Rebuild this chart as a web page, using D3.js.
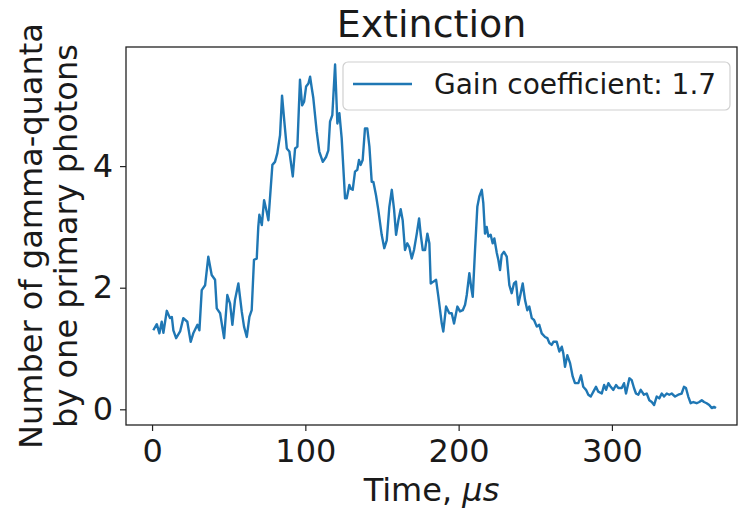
<!DOCTYPE html>
<html>
  <head>
  <title>Extinction</title>
  </head>
  <body>
    <style>
        body, html {
          margin: 0;
          padding: 0;
          background: white;
        }
        text {
          font-family: "DejaVu Sans", sans-serif;
          fill: #1a1a1a;
        }
      </style>

  <svg id="svg" width="742" height="520"></svg>

  <script src="https://d3js.org/d3.v7.min.js"></script>
  <script>
    // time in microseconds
    const times = [
      0.8, 3.1, 4.8, 6.3, 7.4, 9.6, 11.7, 12.9, 13.9, 15.7, 18.3, 20.4, 23.0, 25.2, 26.9, 29.6, 30.9,
      32.4, 34.6, 36.7, 38.9, 41.1, 42.2, 44.4, 47.0, 49.1, 50.9, 52.4, 54.1, 56.3, 58.5, 60.0, 61.8,
      63.5, 65.0, 66.5, 68.3, 69.3,
      70.0, 71.6, 73.1, 74.8, 75.9, 78.5, 80.2, 81.7, 83.5, 84.8, 86.3, 87.9, 89.6, 91.8, 93.3, 94.8,
      96.5, 97.9, 99.2, 100.5, 102.0, 103.1, 104.2, 105.2, 107.4, 109.1, 111.4, 113.5, 115.0, 116.1,
      117.6, 119.4, 120.9, 122.2, 123.7, 125.9, 127.0, 128.7,
      129.6, 130.9, 132.4, 133.9, 135.0, 136.1, 137.4, 138.9, 140.4, 141.8, 143.3, 144.4, 146.1, 147.6,
      149.8, 151.5, 153.1, 154.8, 156.4, 157.9, 159.2, 160.7, 162.2, 163.5, 165.0, 166.5, 167.8, 169.4,
      170.9, 172.7, 174.2, 175.3, 176.6, 178.1, 179.6, 180.9, 181.8, 183.5, 185.3, 186.8, 189.0, 190.0,
      191.8,
      193.9, 195.5, 197.0, 199.2, 200.9, 202.7, 204.2, 205.3, 207.0, 208.1, 209.2, 210.7, 212.2, 213.5,
      215.1, 216.1, 217.2, 218.3, 219.4, 220.9, 222.2, 223.3, 224.9, 225.9, 227.0, 228.1, 229.6, 231.4,
      233.1, 234.6, 236.1, 237.4, 238.9, 240.5, 241.8, 243.3, 244.8, 246.1, 247.7, 249.2, 251.0, 252.6,
      254.2, 256.4, 257.9,
      259.2, 260.7, 261.8, 264.0, 265.7, 267.3, 268.3, 269.4, 270.9, 272.7, 274.4, 275.9, 278.1, 279.8,
      281.3, 283.1, 284.6, 286.2, 287.9, 289.6, 291.1, 293.4, 294.9, 296.2, 297.7, 299.2, 300.9, 302.7,
      304.2, 306.4, 307.9, 309.2, 311.4, 312.9, 314.4, 315.7, 317.2, 318.8, 320.9, 322.7, 324.4, 326.0,
      327.5, 329.2, 330.9, 332.5, 334.0, 335.8, 337.4, 339.0, 341.2, 343.3, 345.5, 347.0, 348.3, 349.8,
      351.4, 353.1, 355.3, 357.0, 358.6, 360.1, 361.8, 363.5, 365.1, 366.6, 367.9
    ]
    // number of gamma-quanta by one primary photon
    const counts = [
      1.30, 1.40, 1.25, 1.44, 1.26, 1.62, 1.50, 1.52, 1.30, 1.17, 1.28, 1.50, 1.44, 1.11, 1.25, 1.39, 1.30,
      1.96, 2.04, 2.51, 2.21, 2.13, 1.66, 1.58, 1.17, 1.88, 1.74, 1.39, 1.80, 2.07, 1.61, 1.36, 1.19,
      1.52, 1.63, 2.46, 2.48, 3.00,
      3.20, 3.03, 3.44, 3.25, 3.11, 4.02, 4.07, 4.21, 4.51, 5.16, 4.73, 4.29, 4.24, 3.83, 4.29, 4.32,
      5.42, 5.00, 5.06, 5.31, 5.36, 5.47, 5.28, 5.12, 4.57, 4.24, 4.07, 4.15, 4.26, 4.73,
      4.84, 5.67, 4.70, 4.87, 4.46, 3.47, 3.47, 3.69,
      3.63, 3.61, 3.91, 3.94, 4.10, 4.02, 4.10, 4.62, 4.62, 4.32, 3.74, 3.74, 3.52, 3.28,
      2.87, 2.65, 2.78, 3.33, 3.61, 3.28, 2.87, 3.11, 3.29, 3.11, 2.62, 2.73, 2.67, 2.48,
      2.62, 2.89, 3.14, 2.87, 2.62, 2.62, 2.89, 2.73, 2.07, 2.10, 2.13, 1.85, 1.41, 1.28,
      1.69,
      1.58, 1.58, 1.41, 1.69, 1.61, 1.63, 1.72, 1.88, 2.24, 2.02, 1.85, 2.62, 3.33, 3.50,
      3.61, 3.39, 2.89, 3.00, 2.84, 2.87, 2.73, 2.81, 2.57, 2.46, 2.29, 2.54, 2.59, 2.51,
      2.04, 1.91, 2.07, 2.10, 1.72, 1.91, 2.07, 1.80, 1.63, 1.69, 1.50, 1.47, 1.36, 1.39,
      1.25, 1.19, 1.17,
      1.09, 1.06, 1.11, 1.11, 0.95, 1.03, 0.92, 0.70, 0.89, 0.76, 0.54, 0.43, 0.43, 0.56,
      0.37, 0.32, 0.24, 0.21, 0.29, 0.37, 0.29, 0.26, 0.40, 0.32, 0.43, 0.37, 0.32, 0.40,
      0.35, 0.35, 0.43, 0.26, 0.51, 0.48, 0.35, 0.26, 0.24, 0.32, 0.24, 0.26, 0.15, 0.12,
      0.07, 0.21, 0.18, 0.26, 0.21, 0.26, 0.24, 0.26, 0.21, 0.24, 0.26, 0.37, 0.35, 0.21,
      0.10, 0.12, 0.10, 0.12, 0.15, 0.12, 0.10, 0.07, 0.02, 0.04, 0.02
    ]
    const xTicks = [0, 100, 200, 300]
    const yTicks = [0, 2, 4]
    const seriesLabel = 'Gain coefficient: 1.7'

    const data = times.map((t, i) => ({ t: t, v: counts[i] }))

    const margin = { left: 126, top: 47, right: 5, bottom: 95 }
    const width = 742 - margin.left - margin.right
    const height = 520 - margin.top - margin.bottom

    const xscale = d3.scaleLinear()
        .domain([-17, 381.6])
        .range([0, width])
    const yscale = d3.scaleLinear()
        .domain([-0.258, 5.959])
        .range([height, 0])

    const svg = d3.select('#svg')
    const graph = svg.append('g')
        .attr('transform', `translate(${margin.left}, ${margin.top})`)

    // line
    const linegen = d3.line()
        .x(d => xscale(d.t))
        .y(d => yscale(d.v))
    graph.append('path')
        .attr('d', linegen(data))
        .attr('fill', 'none')
        .attr('stroke', '#1f77b4')
        .attr('stroke-width', 2.4)
        .attr('stroke-linejoin', 'round')

    // axes (integer labels)
    const bottomAxis = d3.axisBottom(xscale).tickValues(xTicks).tickFormat(d3.format('d'))
        .tickSize(6).tickPadding(8).tickSizeOuter(0)
    const leftAxis = d3.axisLeft(yscale).tickValues(yTicks).tickFormat(d3.format('d'))
        .tickSize(6).tickPadding(7).tickSizeOuter(0)

    const gx = graph.append('g')
        .attr('transform', `translate(0, ${height})`)
        .call(bottomAxis)
    const gy = graph.append('g')
        .call(leftAxis)
    ;[gx, gy].forEach(g => {
        g.select('.domain').remove()
        g.selectAll('line').attr('stroke', '#222').attr('stroke-width', 1.2)
        g.selectAll('text').attr('font-size', 32).attr('font-family', 'DejaVu Sans').attr('fill', '#1a1a1a')
    })

    // frame
    graph.append('rect')
        .attr('width', width)
        .attr('height', height)
        .attr('fill', 'none')
        .attr('stroke', '#222')
        .attr('stroke-width', 1.3)

    // title
    svg.append('text')
        .attr('x', margin.left + width / 2)
        .attr('y', 37)
        .attr('text-anchor', 'middle')
        .attr('font-size', 38)
        .text('Extinction')

    // x label
    const xl = svg.append('text')
        .attr('x', margin.left + width / 2)
        .attr('y', 501)
        .attr('text-anchor', 'middle')
        .attr('font-size', 32)
    xl.append('tspan').text('Time, ')
    xl.append('tspan').attr('font-style', 'italic').text('\u03bcs')

    // y label, two lines
    const yl = ['Number of gamma-quanta', 'by one primary photons']
    yl.forEach((s, i) => {
        svg.append('text')
            .attr('transform', `rotate(-90)`)
            .attr('x', -(margin.top + height / 2))
            .attr('y', 42 + i * 35)
            .attr('text-anchor', 'middle')
            .attr('font-size', 32)
            .text(s)
    })

    // legend
    const legend = graph.append('g')
        .attr('transform', `translate(${343 - margin.left}, ${62 - margin.top})`)
    legend.append('rect')
        .attr('width', 387)
        .attr('height', 48)
        .attr('rx', 5)
        .attr('fill', 'white')
        .attr('fill-opacity', 0.8)
        .attr('stroke', '#d0d0d0')
        .attr('stroke-width', 1.2)
    legend.append('line')
        .attr('x1', 10).attr('x2', 69)
        .attr('y1', 22).attr('y2', 22)
        .attr('stroke', '#1f77b4')
        .attr('stroke-width', 2.4)
    legend.append('text')
        .attr('x', 91)
        .attr('y', 31.5)
        .attr('font-size', 28)
        .text(seriesLabel)
  </script>
  </body>
</html>
